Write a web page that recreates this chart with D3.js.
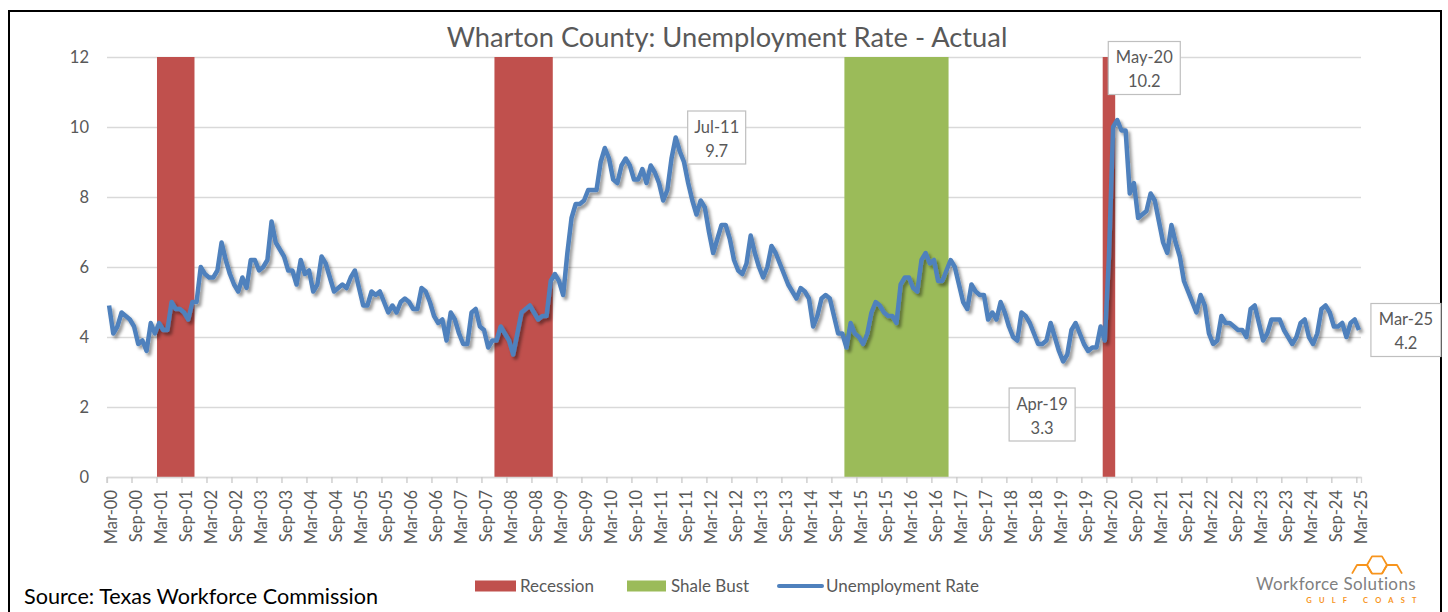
<!DOCTYPE html>
<html>
<head>
<meta charset="utf-8">
<script src="https://cdn.jsdelivr.net/npm/d3@7"></script>
<style>
  body { margin: 0; background: #fff; }
  svg { display: block; font-family: Lato, "Open Sans", sans-serif; }
</style>
</head>
<body>
<div id="chart"></div>
<script>
// monthly unemployment rate, Mar-00 .. Mar-25 (one row = 12 months, from March)
var rate = [
  4.9, 4.1, 4.3, 4.7, 4.6, 4.5, 4.3, 3.8, 3.9, 3.6, 4.4, 4.1,
  4.4, 4.2, 4.2, 5.0, 4.8, 4.8, 4.7, 4.5, 5.0, 5.0, 6.0, 5.8,
  5.7, 5.7, 5.9, 6.7, 6.2, 5.8, 5.5, 5.3, 5.7, 5.4, 6.2, 6.2,
  5.9, 6.0, 6.2, 7.3, 6.7, 6.5, 6.3, 5.9, 5.9, 5.5, 6.2, 5.8,
  5.9, 5.3, 5.5, 6.3, 6.1, 5.7, 5.3, 5.4, 5.5, 5.4, 5.7, 5.9,
  5.4, 4.9, 4.9, 5.3, 5.2, 5.3, 5.0, 4.7, 4.9, 4.7, 5.0, 5.1,
  5.0, 4.8, 4.8, 5.4, 5.3, 5.0, 4.6, 4.4, 4.5, 3.9, 4.7, 4.5,
  4.1, 3.8, 3.8, 4.7, 4.8, 4.3, 4.2, 3.7, 3.9, 3.9, 4.3, 4.1,
  3.9, 3.5, 4.1, 4.7, 4.8, 4.9, 4.7, 4.5, 4.6, 4.6, 5.6, 5.8,
  5.6, 5.2, 6.4, 7.4, 7.8, 7.8, 7.9, 8.2, 8.2, 8.2, 9.0, 9.4,
  9.1, 8.5, 8.4, 8.9, 9.1, 8.9, 8.5, 8.5, 8.8, 8.4, 8.9, 8.7,
  8.4, 7.9, 8.2, 9.1, 9.7, 9.3, 9.0, 8.4, 7.9, 7.5, 7.9, 7.7,
  7.0, 6.4, 6.8, 7.2, 7.2, 6.8, 6.2, 5.9, 5.8, 6.1, 6.9, 6.4,
  6.0, 5.7, 6.0, 6.6, 6.4, 6.1, 5.8, 5.5, 5.3, 5.1, 5.4, 5.3,
  5.1, 4.3, 4.6, 5.1, 5.2, 5.1, 4.6, 4.1, 4.1, 3.7, 4.4, 4.1,
  4.0, 3.8, 4.1, 4.7, 5.0, 4.9, 4.7, 4.6, 4.6, 4.4, 5.5, 5.7,
  5.7, 5.4, 5.3, 6.2, 6.4, 6.1, 6.2, 5.6, 5.6, 5.9, 6.2, 6.0,
  5.5, 5.0, 4.8, 5.5, 5.3, 5.2, 5.2, 4.5, 4.7, 4.5, 5.0, 4.7,
  4.3, 4.0, 3.9, 4.7, 4.6, 4.4, 4.1, 3.8, 3.8, 3.9, 4.4, 4.0,
  3.6, 3.3, 3.5, 4.2, 4.4, 4.1, 3.8, 3.6, 3.7, 3.7, 4.3, 3.9,
  6.3, 10.0, 10.2, 9.9, 9.9, 8.1, 8.4, 7.4, 7.5, 7.6, 8.1, 7.9,
  7.3, 6.7, 6.4, 7.2, 6.7, 6.3, 5.6, 5.3, 5.0, 4.7, 5.2, 4.9,
  4.1, 3.8, 3.9, 4.6, 4.4, 4.4, 4.3, 4.2, 4.2, 4.0, 4.8, 4.9,
  4.4, 3.9, 4.1, 4.5, 4.5, 4.5, 4.2, 4.0, 3.8, 4.0, 4.4, 4.5,
  4.0, 3.8, 4.1, 4.8, 4.9, 4.7, 4.3, 4.3, 4.4, 4.0, 4.4, 4.5,
  4.2
];

// categories: one per month
var fmt = d3.timeFormat("%b-%y");
var months = d3.timeMonth.range(new Date(2000, 2, 1), new Date(2025, 3, 1)).map(fmt);

// shaded periods (first and last month)
var recessions = [["Mar-01", "Nov-01"], ["Dec-07", "Jan-09"], ["Feb-20", "Apr-20"]];
var shaleBust = [["Dec-14", "Dec-16"]];

// y ticks and labelled points
var yTicks = [0, 2, 4, 6, 8, 10, 12];
var callouts = ["Jul-11", "Apr-19", "May-20", "Mar-25"];

var svgWidth = 1448;
var svgHeight = 612;
var margin = { top: 57, right: 87, bottom: 135, left: 107 };
var width = svgWidth - margin.left - margin.right;
var height = svgHeight - margin.top - margin.bottom;

var svg = d3.select("#chart")
  .append("svg")
  .attr("width", svgWidth)
  .attr("height", svgHeight);

var defs = svg.append("defs");
defs.append("filter")
  .attr("id", "shadow")
  .attr("x", "-5%").attr("y", "-10%")
  .attr("width", "110%").attr("height", "130%")
  .append("feDropShadow")
  .attr("dx", 2.5).attr("dy", 3)
  .attr("stdDeviation", 1.8)
  .attr("flood-color", "#000")
  .attr("flood-opacity", 0.4);

// outer frame
svg.append("rect")
  .attr("x", 9).attr("y", 11)
  .attr("width", 1432).attr("height", 640)
  .attr("fill", "none")
  .attr("stroke", "#000")
  .attr("stroke-width", 2);

var chartGroup = svg.append("g")
  .attr("transform", `translate(${margin.left}, ${margin.top})`);

var x = d3.scaleBand()
  .domain(months)
  .range([0, width])
  .padding(0);
var bw = x.bandwidth();

var y = d3.scaleLinear()
  .domain([0, 12])
  .range([height, 0]);

// gridlines
chartGroup.append("g")
  .attr("class", "grid")
  .call(d3.axisLeft(y).tickValues(yTicks).tickSize(-width).tickFormat(""))
  .call(g => g.select(".domain").remove())
  .call(g => g.selectAll("line").attr("stroke", "#d9d9d9").attr("stroke-width", 1.3));

// y labels
chartGroup.append("g")
  .call(d3.axisLeft(y).tickValues(yTicks).tickSize(0).tickPadding(18))
  .call(g => g.select(".domain").remove())
  .call(g => g.selectAll("text")
    .attr("fill", "#595959")
    .style("font-size", "16.5px")
    .style("font-family", "Lato, sans-serif"));

// shaded periods
function drawPeriods(periods, color) {
  chartGroup.append("g")
    .selectAll("rect")
    .data(periods)
    .enter()
    .append("rect")
    .attr("x", d => x(d[0]))
    .attr("width", d => x(d[1]) + bw - x(d[0]))
    .attr("y", y(12))
    .attr("height", y(0) - y(12))
    .attr("fill", color);
}
drawPeriods(recessions, "#c0504d");
drawPeriods(shaleBust, "#9bbb59");

// x axis
var xTickVals = months.filter((m, i) => i % 6 === 0);
var xAxis = chartGroup.append("g")
  .attr("transform", `translate(0, ${height})`)
  .call(d3.axisBottom(x).tickValues(xTickVals).tickSizeOuter(0).tickSize(6));
xAxis.select(".domain").attr("stroke", "#d9d9d9").attr("stroke-width", 1.3);
xAxis.selectAll(".tick line")
  .attr("stroke", "#c8c8c8")
  .attr("stroke-width", 1.3)
  .attr("x1", -bw / 2).attr("x2", -bw / 2);
xAxis.selectAll(".tick text")
  .attr("fill", "#595959")
  .style("font-size", "16.5px")
  .style("font-family", "Lato, sans-serif")
  .attr("text-anchor", "end")
  .attr("transform", "rotate(-90)")
  .attr("x", -13)
  .attr("y", 2)
  .attr("dy", "0.35em");

// rate line
var line = d3.line()
  .x((d, i) => x(months[i]) + bw / 2)
  .y(d => y(d));

chartGroup.append("path")
  .datum(rate)
  .attr("d", line)
  .attr("fill", "none")
  .attr("stroke", "#4f81bd")
  .attr("stroke-width", 4.5)
  .attr("stroke-linejoin", "round")
  .attr("filter", "url(#shadow)");

// callout boxes: offset of box centre from the point, box width
var calloutOffsets = {
  "Jul-11": [41, 0, 58],
  "Apr-19": [-21, 53, 66],
  "May-20": [27, -52, 72],
  "Mar-25": [47, 0, 70]
};
var callGroup = chartGroup.selectAll(".callout")
  .data(callouts)
  .enter()
  .append("g")
  .attr("class", "callout")
  .attr("transform", d => {
    var i = months.indexOf(d);
    var o = calloutOffsets[d];
    return `translate(${x(d) + bw / 2 + o[0]}, ${y(rate[i]) + o[1]})`;
  });
callGroup.append("rect")
  .attr("x", d => -calloutOffsets[d][2] / 2)
  .attr("y", -26.5)
  .attr("width", d => calloutOffsets[d][2])
  .attr("height", 53)
  .attr("fill", "#fff")
  .attr("stroke", "#bfbfbf")
  .attr("stroke-width", 1.2);
callGroup.append("text")
  .attr("text-anchor", "middle")
  .attr("y", -5)
  .attr("fill", "#595959")
  .style("font-size", "16.5px")
  .text(d => d);
callGroup.append("text")
  .attr("text-anchor", "middle")
  .attr("y", 19)
  .attr("fill", "#595959")
  .style("font-size", "16.5px")
  .text(d => rate[months.indexOf(d)].toFixed(1));

// title
svg.append("text")
  .attr("x", 727)
  .attr("y", 47)
  .attr("text-anchor", "middle")
  .attr("fill", "#595959")
  .style("font-size", "27.3px")
  .text("Wharton County: Unemployment Rate - Actual");

// legend
var legend = svg.append("g").attr("transform", "translate(0, 586)");
legend.append("rect").attr("x", 475).attr("y", -5.5).attr("width", 41).attr("height", 11).attr("fill", "#c0504d");
legend.append("text").attr("x", 520).attr("y", 6).attr("fill", "#595959").style("font-size", "17px").text("Recession");
legend.append("rect").attr("x", 627).attr("y", -5.5).attr("width", 39).attr("height", 11).attr("fill", "#9bbb59");
legend.append("text").attr("x", 671).attr("y", 6).attr("fill", "#595959").style("font-size", "17px").text("Shale Bust");
legend.append("line").attr("x1", 779).attr("x2", 822).attr("y1", 0).attr("y2", 0)
  .attr("stroke", "#4f81bd").attr("stroke-width", 4).attr("stroke-linecap", "round");
legend.append("text").attr("x", 826).attr("y", 6).attr("fill", "#595959").style("font-size", "17px").text("Unemployment Rate");

// source
svg.append("text")
  .attr("x", 24)
  .attr("y", 604)
  .attr("fill", "#000")
  .style("font-size", "21.6px")
  .text("Source: Texas Workforce Commission");

// logo
var logo = svg.append("g");
var r = 10, hh = r * Math.sqrt(3) / 2;
function hexPts(cx, cy, from, to) {
  var pts = [];
  for (var k = from; k <= to; k++) {
    var a = Math.PI / 180 * (60 * k);
    pts.push([cx + r * Math.cos(a), cy + r * Math.sin(a)]);
  }
  return pts;
}
var lineGen = d3.line();
// middle hexagon (full) and two side ones (upper halves)
logo.append("path").attr("d", lineGen(hexPts(1377, 565, 0, 6)));
logo.append("path").attr("d", lineGen(hexPts(1362, 565 + hh, 3, 6)));
logo.append("path").attr("d", lineGen(hexPts(1392, 565 + hh, 3, 6)));
logo.selectAll("path")
  .attr("fill", "none")
  .attr("stroke", "#f7941d")
  .attr("stroke-width", 1.8)
  .attr("stroke-linejoin", "round");
logo.append("text")
  .attr("x", 1336)
  .attr("y", 590)
  .attr("text-anchor", "middle")
  .attr("fill", "#808080")
  .style("font-size", "17px")
  .style("letter-spacing", "0.4px")
  .text("Workforce Solutions");
logo.append("text")
  .attr("x", 1365)
  .attr("y", 603)
  .attr("text-anchor", "middle")
  .attr("fill", "#f7941d")
  .style("font-size", "7.5px")
  .style("font-weight", "bold")
  .style("letter-spacing", "7.2px")
  .text("GULF COAST");
</script>
</body>
</html>
